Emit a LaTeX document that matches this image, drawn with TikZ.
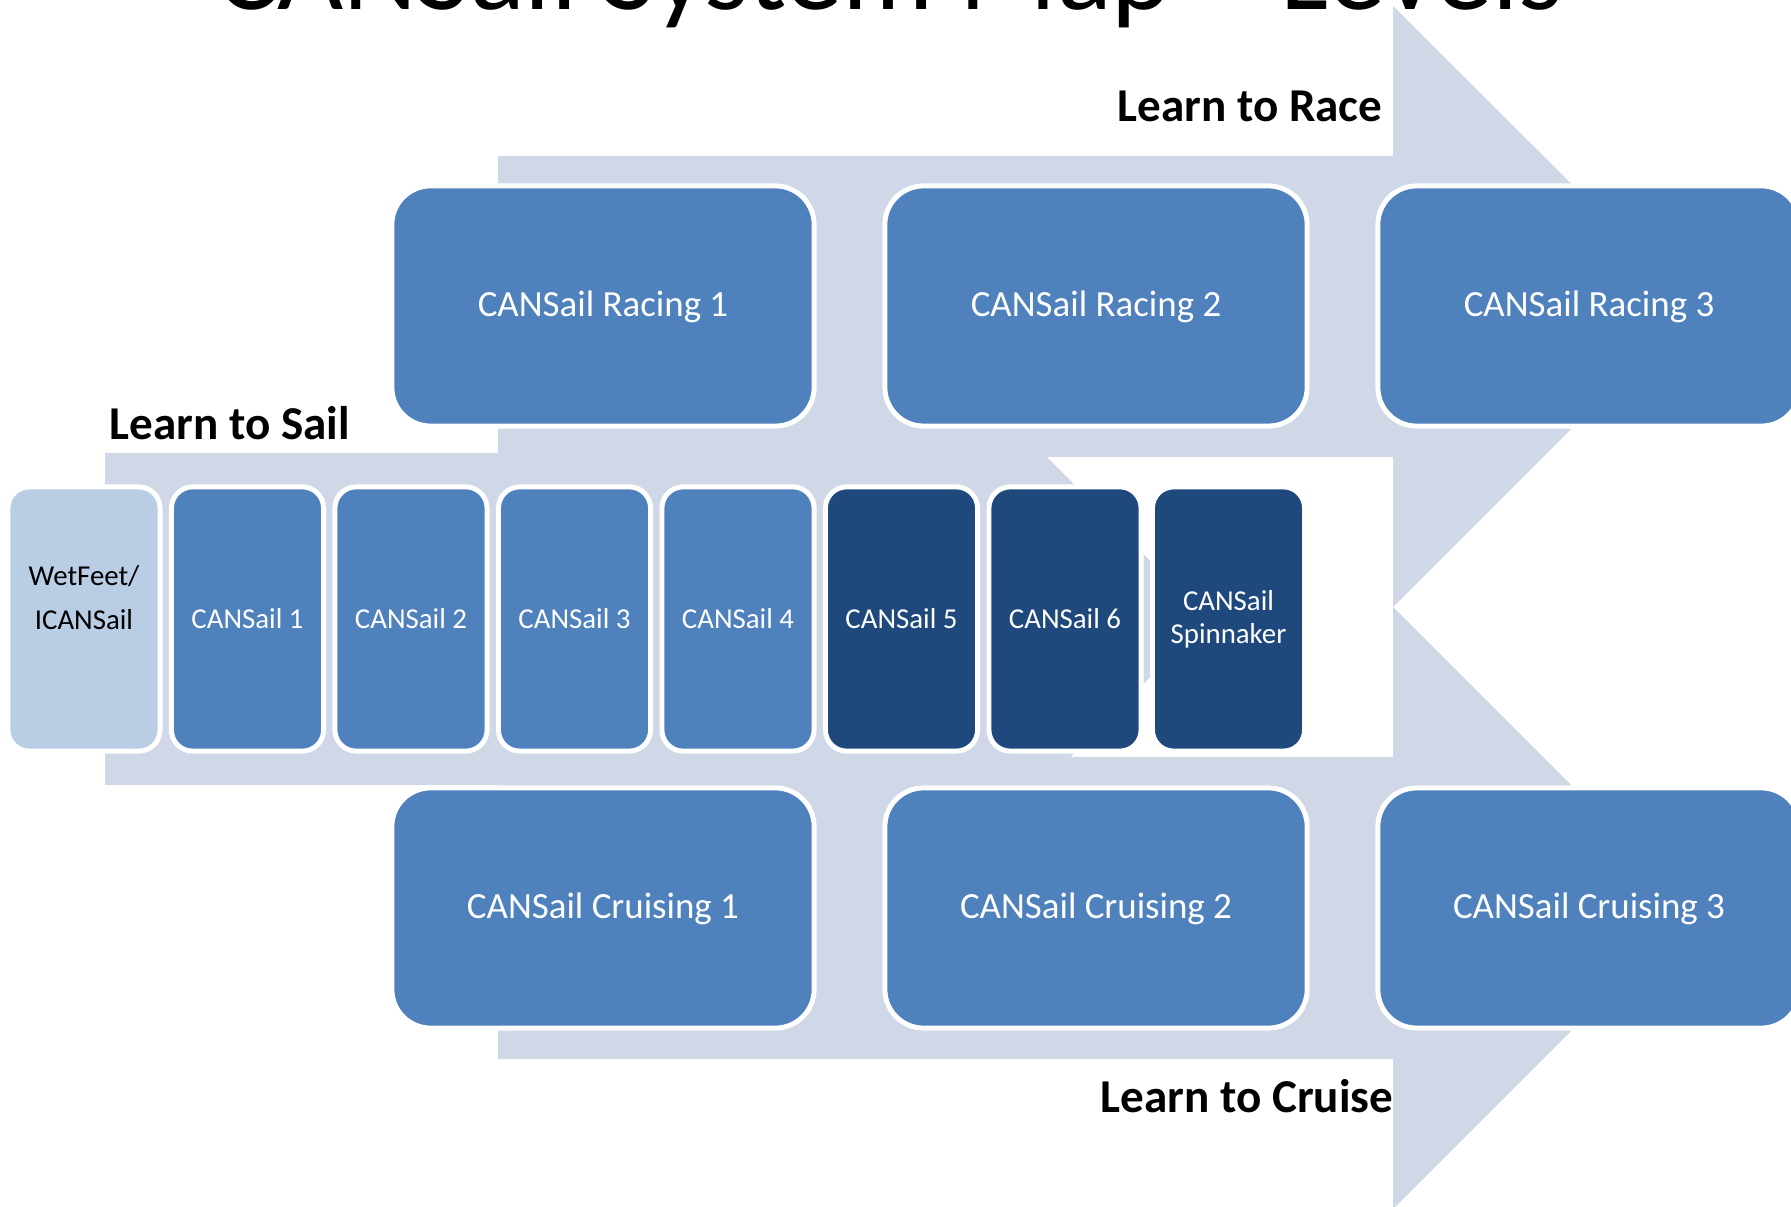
\documentclass[tikz,border=0pt]{standalone}
\usepackage{fontspec}
\setmainfont{Carlito}
\usetikzlibrary{positioning}
\definecolor{pathgrey}{HTML}{D0D8E8}
\definecolor{paleblue}{HTML}{B9CDE5}
\definecolor{midblue}{HTML}{4F81BD}
\definecolor{darkblue}{HTML}{1F497D}

\begin{document}
\begin{tikzpicture}[x = 0.01cm, y = -0.01cm]

\tikzset{
pathway/.style = {fill = pathgrey},
course/.style = {rectangle, draw = white, line width = 1.4pt, fill = midblue, rounded corners = 11pt,
	minimum width = 4.22cm, minimum height = 2.40cm, text = white, text height = 8pt,
	text depth = 2.2pt, font = \fontsize{10.5}{12.6}\selectfont},
level/.style = {rectangle, draw = white, line width = 1.4pt, fill = midblue, rounded corners = 6pt,
	minimum width = 1.52cm, minimum height = 2.64cm, inner sep = 1pt, text = white, align = center,
	font = \fontsize{8.2}{9.4}\selectfont},
stream/.style = {inner sep = 0pt, font = \bfseries\fontsize{13.4}{16}\selectfont},
	}

\useasboundingbox (0, 0) rectangle (1791, 1207);

%% Pathways
\fill [pathway] (498, 156) -- (1393, 156) -- (1393, 6) -- (1694, 306) -- (1393, 607)
	-- (1393, 457) -- (498, 457) -- cycle;
\fill [pathway] (498, 757) -- (1393, 757) -- (1393, 607) -- (1694, 908) -- (1393, 1209)
	-- (1393, 1059) -- (498, 1059) -- cycle;
\fill [pathway] (105, 453) -- (1043, 453) -- (1208, 619) -- (1043, 785) -- (105, 785) -- cycle;

%% Courses
% Racing
\node at (603, 306) [course] (race1) {CANSail Racing 1};
\node at (1096, 306) [course] (race2) {CANSail Racing 2};
\node at (1589, 306) [course] (race3) {CANSail Racing 3};

% Cruising
\node at (603, 908) [course] (cruise1) {CANSail Cruising 1};
\node at (1096, 908) [course] (cruise2) {CANSail Cruising 2};
\node at (1589, 908) [course] (cruise3) {CANSail Cruising 3};

% Levels
\node at (84, 619) [level, fill = paleblue, text = black, font = \fontsize{8.2}{12.5}\selectfont]
	(wetfeet) {WetFeet/\\ICANSail\\\mbox{}};
\node at (247.5, 619) [level] (cs1) {CANSail 1};
\node at (411, 619) [level] (cs2) {CANSail 2};
\node at (574.5, 619) [level] (cs3) {CANSail 3};
\node at (738, 619) [level] (cs4) {CANSail 4};
\node at (901.5, 619) [level, fill = darkblue] (cs5) {CANSail 5};
\node at (1065, 619) [level, fill = darkblue] (cs6) {CANSail 6};
\node at (1228.5, 619) [level, fill = darkblue] (spin) {CANSail\\Spinnaker};

%% Labels
\node at (1383, 122) [stream, anchor = base east] (race) {Learn to Race};
\node at (109, 440) [stream, anchor = base west] (sail) {Learn to Sail};
\node at (1394, 1112) [stream, anchor = base east] (cruise) {Learn to Cruise};

%% Title
\node at (890, 10) [anchor = base, inner sep = 0pt, font = \fontsize{32.5}{39}\selectfont]
	(title) {CANSail System Map -- Levels};

\end{tikzpicture}
\end{document}
